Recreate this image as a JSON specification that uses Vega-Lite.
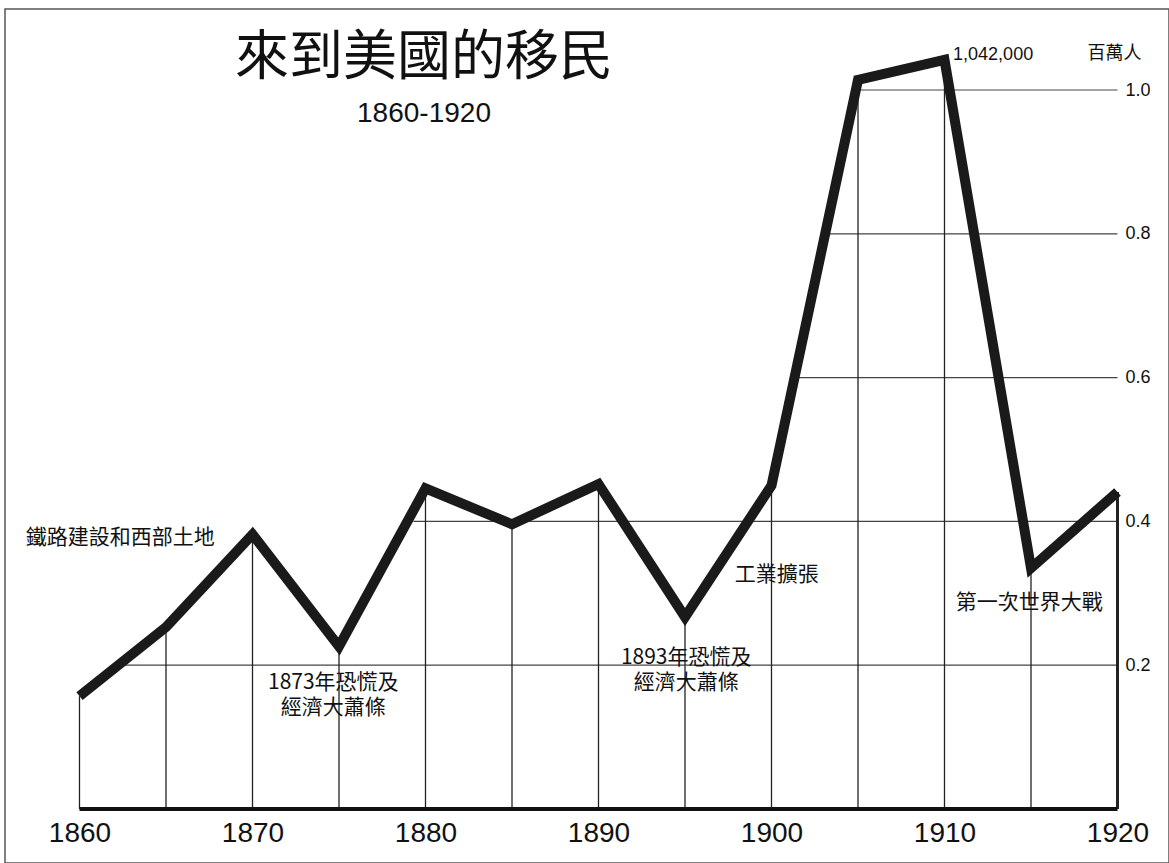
{
  "$schema": "https://vega.github.io/schema/vega-lite/v6.json",
  "autosize": "none",
  "width": 1164,
  "height": 854,
  "padding": {"left": 5, "top": 9, "right": 0, "bottom": 0},
  "background": "white",
  "config": {
    "view": {"stroke": "#555", "strokeWidth": 1.5, "fill": "white"},
    "font": "Liberation Sans"
  },
  "title": {
    "text": "來到美國的移民",
    "subtitle": "1860-1920",
    "anchor": "middle",
    "dx": -163,
    "offset": -119,
    "font": "Noto Sans CJK TC",
    "fontSize": 54,
    "fontWeight": "normal",
    "color": "#111",
    "subtitleFont": "Liberation Sans",
    "subtitleFontSize": 28,
    "subtitleColor": "#111",
    "subtitlePadding": 14
  },
  "datasets": {
    "imm": [
      {"year": 1860, "v": 0.157},
      {"year": 1865, "v": 0.253},
      {"year": 1870, "v": 0.382},
      {"year": 1875, "v": 0.226},
      {"year": 1880, "v": 0.446},
      {"year": 1885, "v": 0.396},
      {"year": 1890, "v": 0.452},
      {"year": 1895, "v": 0.267},
      {"year": 1900, "v": 0.45},
      {"year": 1905, "v": 1.014},
      {"year": 1910, "v": 1.042},
      {"year": 1915, "v": 0.335},
      {"year": 1920, "v": 0.441}
    ],
    "grid": [
      {"v": 0.2, "year": 1862.5, "to": 1920},
      {"v": 0.4, "year": 1879.3, "to": 1920},
      {"v": 0.6, "year": 1901.5, "to": 1920},
      {"v": 0.8, "year": 1903.2, "to": 1920},
      {"v": 1.0, "year": 1904.9, "to": 1920}
    ],
    "base": [
      {"v": 0, "year": 1860, "to": 1920}
    ],
    "notes": [
      {"text": "鐵路建設和西部土地", "year": 1862.35, "v": 0.377},
      {"text": "1873年恐慌及", "year": 1874.67, "v": 0.1752},
      {"text": "經濟大蕭條", "year": 1874.67, "v": 0.1405},
      {"text": "1893年恐慌及", "year": 1895.07, "v": 0.21},
      {"text": "經濟大蕭條", "year": 1895.07, "v": 0.1752},
      {"text": "工業擴張", "year": 1900.3, "v": 0.3255},
      {"text": "第一次世界大戰", "year": 1914.9, "v": 0.2865}
    ],
    "peak": [
      {"text": "1,042,000", "year": 1912.81, "v": 1.0487}
    ]
  },
  "encoding": {
    "x": {
      "field": "year", "type": "quantitative",
      "scale": {"domain": [1855.694, 1922.977], "nice": false, "zero": false},
      "axis": {"orient": "bottom", "values": [1860, 1870, 1880, 1890, 1900, 1910, 1920], "format": "d", "labelFont": "Liberation Sans", "labelFontSize": 28, "labelColor": "#111", "domain": false, "ticks": false, "tickSize": 0, "grid": false, "offset": -30, "labelPadding": 0, "labelBaseline": "middle", "labelFlush": false, "labelOverlap": false, "title": null}
    },
    "y": {
      "field": "v", "type": "quantitative",
      "scale": {"domain": [-0.0751, 1.11266], "nice": false, "zero": false},
      "axis": {"orient": "right", "values": [0.2, 0.4, 0.6, 0.8, 1.0], "format": ".1f", "labelFont": "Liberation Sans", "labelFontSize": 18, "labelColor": "#111", "domain": false, "ticks": false, "tickSize": 0, "grid": false, "offset": -44, "labelPadding": 0, "labelAlign": "left", "labelBaseline": "middle", "labelFlush": false, "labelOverlap": false, "title": "百萬人", "titleAngle": 0, "titleFont": "Noto Sans CJK TC", "titleFontSize": 18, "titleFontWeight": "normal", "titleColor": "#111", "titleX": -38, "titleY": 44, "titleAlign": "left", "titleBaseline": "middle"}
    }
  },
  "layer": [
    {
      "data": {"name": "grid"},
      "mark": {"type": "rule", "stroke": "#444", "strokeWidth": 1.2},
      "encoding": {"x2": {"field": "to"}}
    },
    {
      "data": {"name": "imm"},
      "mark": {"type": "rule", "stroke": "#222"},
      "encoding": {
        "y2": {"datum": 0},
        "strokeWidth": {"condition": {"test": "datum.year === 1920", "value": 3}, "value": 1.3}
      }
    },
    {
      "data": {"name": "base"},
      "mark": {"type": "rule", "stroke": "#111", "strokeWidth": 4},
      "encoding": {"x2": {"field": "to"}}
    },
    {
      "data": {"name": "notes"},
      "mark": {"type": "text", "font": "Noto Sans CJK TC", "fontSize": 21, "align": "center", "baseline": "middle", "fill": "#111"},
      "encoding": {"text": {"field": "text"}}
    },
    {
      "data": {"name": "peak"},
      "mark": {"type": "text", "font": "Liberation Sans", "fontSize": 18, "align": "center", "baseline": "middle", "fill": "#111"},
      "encoding": {"text": {"field": "text"}}
    },
    {
      "data": {"name": "imm"},
      "mark": {"type": "line", "stroke": "#1a1a1a", "strokeWidth": 10, "strokeJoin": "miter", "strokeCap": "butt"},
      "encoding": {}
    }
  ]
}
